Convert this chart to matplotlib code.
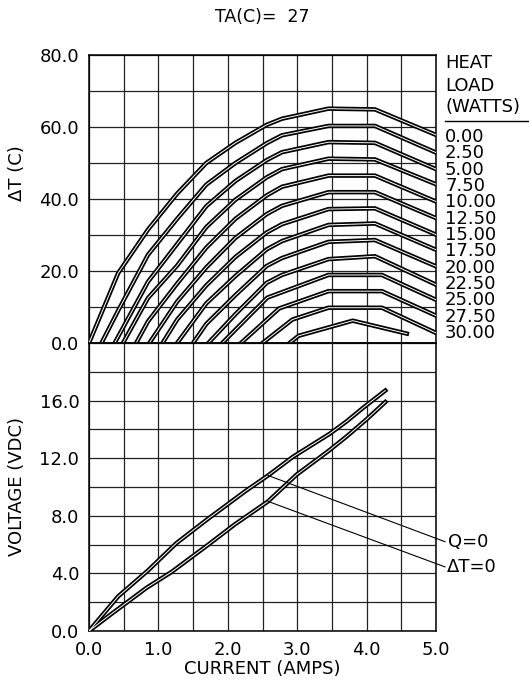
import numpy as np
import matplotlib
matplotlib.use("Agg")
import matplotlib.pyplot as plt

# heat load curves: (current A, delta T C) vertices
heat_loads = ["0.00", "2.50", "5.00", "7.50", "10.00", "12.50", "15.00",
              "17.50", "20.00", "22.50", "25.00", "27.50", "30.00"]
dt_curves = [
    [(0, 0), (0.42, 19.4), (0.85, 31.5), (1.27, 41.5), (1.69, 50.0), (2.11, 55.6), (2.56, 60.6), (2.78, 62.3), (3.45, 65.1), (4.12, 64.9), (5.0, 57.8)],
    [(0.18, 0), (0.42, 9.0), (0.85, 24.5), (1.27, 34.5), (1.69, 44.0), (2.11, 50.0), (2.56, 55.5), (2.78, 57.7), (3.45, 60.3), (4.12, 60.3), (5.0, 52.9)],
    [(0.37, 0), (0.85, 17.0), (1.27, 27.5), (1.69, 38.0), (2.11, 45.0), (2.56, 50.8), (2.78, 53.0), (3.45, 55.8), (4.12, 55.6), (5.0, 48.3)],
    [(0.49, 0), (0.85, 12.5), (1.27, 21.5), (1.69, 32.2), (2.11, 39.8), (2.56, 46.0), (2.78, 48.3), (3.45, 51.2), (4.12, 51.0), (5.0, 44.1)],
    [(0.68, 0), (0.85, 6.0), (1.27, 16.5), (1.69, 26.5), (2.11, 34.5), (2.56, 41.0), (2.78, 43.4), (3.45, 46.5), (4.12, 46.5), (5.0, 39.3)],
    [(0.87, 0), (1.27, 11.5), (1.69, 21.0), (2.11, 29.2), (2.56, 35.8), (2.78, 38.1), (3.45, 41.9), (4.12, 41.9), (5.0, 34.7)],
    [(1.06, 0), (1.27, 6.5), (1.69, 16.0), (2.11, 23.9), (2.56, 30.7), (2.78, 33.0), (3.45, 37.2), (4.12, 37.4), (5.0, 30.1)],
    [(1.27, 0), (1.69, 11.0), (2.11, 18.6), (2.56, 26.0), (2.78, 28.3), (3.45, 32.8), (4.12, 33.2), (5.0, 25.9)],
    [(1.50, 0), (1.69, 5.3), (2.11, 13.3), (2.56, 21.4), (2.78, 23.6), (3.45, 28.1), (4.12, 28.6), (5.0, 21.3)],
    [(1.72, 0), (2.11, 8.0), (2.56, 16.7), (2.78, 18.9), (3.45, 23.3), (4.12, 24.1), (5.0, 16.2)],
    [(1.92, 0), (2.57, 12.6), (3.45, 18.9), (4.22, 18.9), (5.0, 12.0)],
    [(2.19, 0), (2.74, 9.6), (3.45, 14.4), (4.22, 14.4), (5.0, 7.6)],
    [(2.50, 0), (2.93, 6.5), (3.45, 9.8), (4.22, 9.8), (5.0, 2.8)],
    [(2.89, 0), (3.02, 2.0), (3.80, 6.2), (4.58, 2.6)],
]

# voltage curves
v_q0 = [(0, 0), (0.42, 2.4), (0.85, 4.2), (1.26, 6.1), (1.69, 7.7), (2.25, 9.7), (2.58, 10.8),
        (2.94, 12.1), (3.47, 13.7), (3.71, 14.55), (3.95, 15.5), (4.27, 16.7)]
v_dt0 = [(0, 0), (0.30, 1.1), (0.83, 3.0), (1.19, 4.1), (1.72, 6.0), (2.10, 7.4), (2.58, 9.0),
         (2.99, 10.85), (3.45, 12.5), (3.71, 13.5), (4.00, 14.7), (4.27, 15.9)]

FS = 13
GRID = "#222222"

def dline(ax, pts):
    x, y = zip(*pts)
    ax.plot(x, y, color="black", lw=3.2, solid_joinstyle="miter", zorder=3)
    ax.plot(x, y, color="white", lw=0.7, zorder=4)

def frame(ax, ymax, ystep):
    ax.set_xlim(0, 5); ax.set_ylim(0, ymax)
    ax.set_xticks(np.arange(0, 5.01, 0.5), minor=True)
    ax.set_yticks(np.arange(0, ymax + 0.01, ystep), minor=True)
    ax.grid(True, which="both", color=GRID, lw=0.9)
    ax.tick_params(which="both", length=0, labelsize=FS, pad=7)
    for s in ax.spines.values():
        s.set_color("black"); s.set_linewidth(1.1)
    ax.set_axisbelow(True)

fig = plt.figure(figsize=(5.29, 6.86), dpi=100)
L, W = 89 / 529, 347 / 529
top = fig.add_axes([L, 0.5, W, 0.4198])
bot = fig.add_axes([L, 0.0802, W, 0.4198])

# top panel
frame(top, 80, 10)
top.set_yticks([0, 20, 40, 60, 80])
top.set_yticklabels([f"{v:.1f}" for v in [0, 20, 40, 60, 80]])
top.set_xticks([0, 1, 2, 3, 4, 5]); top.set_xticklabels([])
for pts in dt_curves:
    dline(top, pts)
top.set_ylabel("ΔT (C)", fontsize=FS)
top.yaxis.set_label_coords(-0.182, 0.59)
top.set_title("TA(C)=  27", fontsize=12.5, pad=24)

# heat load legend on the right
for txt, yy in [("HEAT", 0.972), ("LOAD", 0.892), ("(WATTS)", 0.819)]:
    top.text(1.026, yy, txt, transform=top.transAxes, fontsize=FS, va="center", ha="left")
top.plot([1.026, 1.27], [0.771, 0.771], color="black", lw=1.0, transform=top.transAxes, clip_on=False)
for txt, yy in zip(heat_loads, np.linspace(0.715, 0.035, len(heat_loads))):
    top.text(1.026, yy, txt, transform=top.transAxes, fontsize=FS, va="center", ha="left")

# bottom panel
frame(bot, 20, 2)
bot.set_yticks([0, 4, 8, 12, 16])
bot.set_yticklabels([f"{v:.1f}" for v in [0, 4, 8, 12, 16]])
bot.set_xticks([0, 1, 2, 3, 4, 5])
bot.set_xticklabels([f"{v:.1f}" for v in [0, 1, 2, 3, 4, 5]])
dline(bot, v_q0)
dline(bot, v_dt0)
bot.set_ylabel("VOLTAGE (VDC)", fontsize=FS)
bot.yaxis.set_label_coords(-0.182, 0.5)
bot.set_xlabel("CURRENT (AMPS)", fontsize=FS)
bot.xaxis.set_label_coords(0.5, -0.1)

# leader lines
bot.plot([v_q0[6][0], 5.13], [v_q0[6][1], 6.2], color="black", lw=0.8, clip_on=False, zorder=5)
bot.plot([v_dt0[6][0], 5.13], [v_dt0[6][1], 4.45], color="black", lw=0.8, clip_on=False, zorder=5)
bot.text(5.17, 6.2, "Q=0", fontsize=FS, va="center", ha="left")
bot.text(5.15, 4.45, "ΔT=0", fontsize=FS, va="center", ha="left")

fig.savefig("out.png", dpi=100)
